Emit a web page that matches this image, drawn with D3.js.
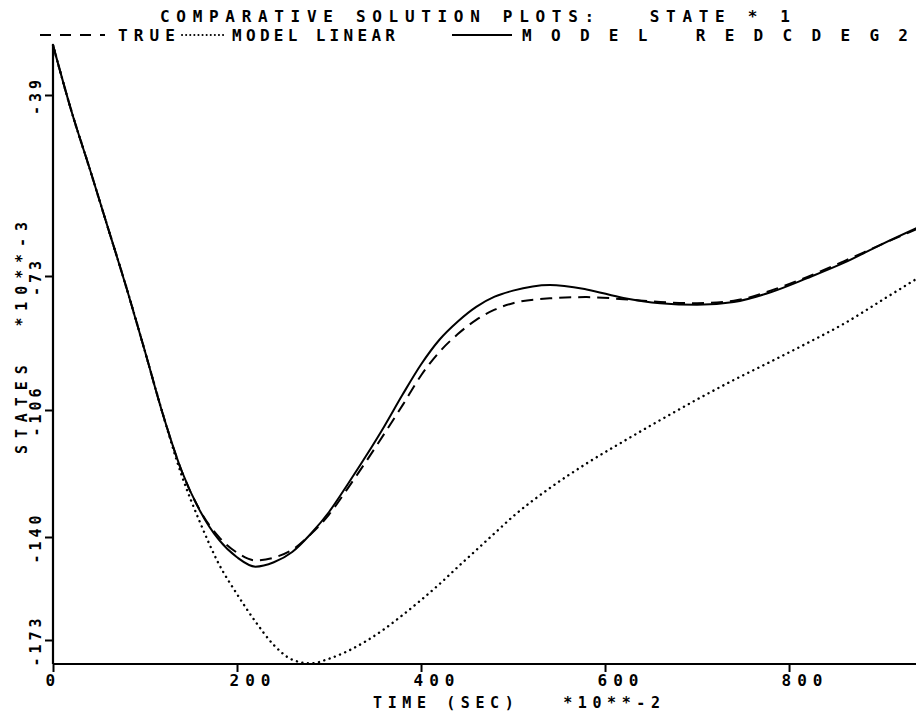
<!DOCTYPE html>
<html><head><meta charset="utf-8">
<script src="https://cdn.jsdelivr.net/npm/d3@7"></script>
<style>
html,body{margin:0;padding:0;background:#fff;}
svg text{font-family:"DejaVu Sans Mono",monospace;font-weight:bold;fill:#000;}
</style></head>
<body>
<svg id="chart" width="916" height="716"></svg>
<script>
// Time (SEC) x10**-2
const times = [0,20,40,60,80,100,120,140,160,180,200,220,240,260,280,300,320,340,360,380,400,420,440,460,480,500,540,580,620,660,700,740,780,820,860,900,940];
// STATES x10**-3 (read against the printed, unevenly spaced tick marks)
const trueValues = [-29.6,-42.0,-52.9,-64.1,-76.0,-91.6,-107.6,-122.4,-133.0,-139.9,-145.0,-147.5,-146.6,-144.1,-139.3,-134.0,-127.1,-119.9,-112.4,-104.8,-97.5,-91.7,-87.3,-83.8,-81.3,-79.7,-78.5,-78.2,-78.7,-79.4,-79.7,-79.1,-76.6,-73.2,-70.2,-67.1,-64.1];
const linearValues = [-29.6,-42.0,-52.9,-64.1,-76.0,-91.6,-107.6,-123.6,-136.2,-148.5,-158.3,-167.1,-174.6,-179.3,-180.5,-179.0,-176.6,-173.4,-169.5,-165.0,-160.2,-155.1,-149.6,-144.2,-139.0,-134.5,-126.9,-120.3,-114.4,-108.7,-103.4,-98.6,-94.1,-89.5,-84.7,-79.1,-73.5];
const redcValues = [-29.6,-42.0,-52.9,-64.1,-76.0,-91.6,-107.6,-122.4,-133.1,-140.8,-146.5,-149.5,-148.1,-144.8,-139.2,-133.3,-126.0,-118.4,-110.4,-102.2,-94.8,-88.7,-84.2,-80.6,-78.1,-76.6,-75.2,-76.3,-78.4,-79.7,-80.1,-79.4,-77.0,-73.5,-70.5,-67.1,-63.9];

const xTicks = [0,200,400,600,800];
const xTickLabels = ["0","200","400","600","800"];
const yTicks = [-173,-140,-106,-73,-39];
const yTickLabels = ["-173","-140","-106","-73","-39"];
const seriesNames = ["TRUE","MODEL LINEAR","MODEL REDCDEG2"];
const titleText = "COMPARATIVE SOLUTION PLOTS:   STATE * 1";
const xLabel = "TIME (SEC)   *10**-2";
const yLabel = "STATES  *10**-3";

const yMin = -180.7, yMax = -29.6;

const svg = d3.select("#chart");
const x = d3.scaleLinear().domain([0,938]).range([53,916]);
// the printed axis has unevenly spaced ticks, so use a piecewise-linear scale through them
const y = d3.scaleLinear().domain([yMin,-173,-140,-106,-73,-39,yMax]).range([664,640,537,410,276,95,45]);

svg.append("defs").append("clipPath").attr("id","clip")
  .append("rect").attr("x",0).attr("y",0).attr("width",916).attr("height",716);

// axes
const xAxis = d3.axisBottom(x).tickValues(xTicks).tickSize(8).tickFormat(()=>"");
const gx = svg.append("g").attr("transform",`translate(0,${y(yMin)})`).call(xAxis);
gx.select(".domain").attr("stroke","#000").attr("stroke-width",2.2).attr("d",`M53,0H916`);
gx.selectAll(".tick line").attr("stroke","#000").attr("stroke-width",2);
gx.selectAll(".tick").append("text").text((d,i)=>xTickLabels[i])
  .attr("x",-8).attr("y",22).attr("text-anchor","start")
  .style("font-size","16px").style("letter-spacing","6px");

const yAxis = d3.axisLeft(y).tickValues(yTicks).tickSize(8).tickFormat(()=>"");
const gy = svg.append("g").attr("transform",`translate(53,0)`).call(yAxis);
gy.select(".domain").attr("stroke","#000").attr("stroke-width",2.2).attr("d",`M0,${y(yMax)}V${y(yMin)}`);
gy.selectAll(".tick line").attr("stroke","#000").attr("stroke-width",2);
gy.selectAll(".tick").append("text").text((d,i)=>yTickLabels[i])
  .attr("transform","translate(-12,0) rotate(-90)")
  .attr("text-anchor","middle")
  .style("font-size","15px").style("letter-spacing","4px");

// curves
const line = d3.line().x((d,i)=>x(times[i])).y(d=>y(d)).curve(d3.curveMonotoneX);
const g = svg.append("g").attr("clip-path","url(#clip)");
g.append("path").attr("d",line(linearValues)).attr("fill","none").attr("stroke","#000")
  .attr("stroke-width",2.4).attr("stroke-linecap","round").attr("stroke-dasharray","0.1,5.5");
g.append("path").attr("d",line(trueValues)).attr("fill","none").attr("stroke","#000")
  .attr("stroke-width",2).attr("stroke-dasharray","12,7");
g.append("path").attr("d",line(redcValues)).attr("fill","none").attr("stroke","#000")
  .attr("stroke-width",2);

// title
svg.append("text").text(titleText).attr("x",160).attr("y",22)
  .attr("textLength",630).attr("lengthAdjust","spacing")
  .style("font-size","16px").style("white-space","pre");

// legend
const leg = svg.append("g");
const legY = 41;
const legendItems = [
  {x1:40,x2:105,tx:118,len:57,dash:"11,9",w:2.2,cap:"butt"},
  {x1:182,x2:225,tx:232,len:163,dash:"0.1,4",w:2,cap:"round"},
  {x1:452,x2:512,tx:522,len:386,dash:null,w:2,cap:"butt"}
];
legendItems.forEach((it,i)=>{
  leg.append("line").attr("x1",it.x1).attr("x2",it.x2).attr("y1",legY-6).attr("y2",legY-6)
    .attr("stroke","#000").attr("stroke-width",it.w).attr("stroke-linecap",it.cap)
    .attr("stroke-dasharray",it.dash);
  leg.append("text").text(seriesNames[i]).attr("x",it.tx).attr("y",legY)
    .attr("textLength",it.len).attr("lengthAdjust","spacing")
    .style("font-size","16px").style("white-space","pre");
});

// axis titles
svg.append("text").text(xLabel).attr("x",373).attr("y",708)
  .attr("textLength",287).attr("lengthAdjust","spacing")
  .style("font-size","15px").style("white-space","pre");
svg.append("text").text(yLabel).attr("transform","translate(27,338) rotate(-90)")
  .attr("text-anchor","middle")
  .attr("textLength",232).attr("lengthAdjust","spacing")
  .style("font-size","15px").style("white-space","pre");
</script>
</body></html>
